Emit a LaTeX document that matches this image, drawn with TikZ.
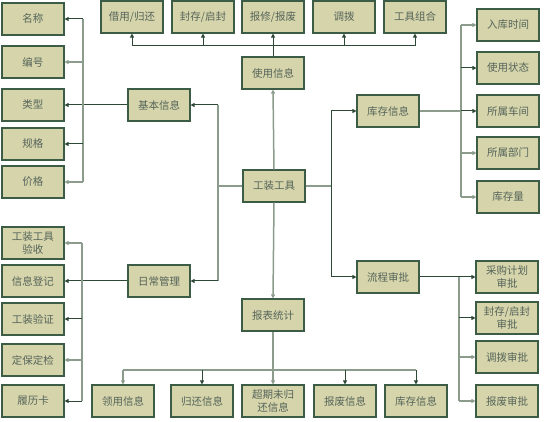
\documentclass[tikz,border=0pt]{standalone}
\usepackage{fontspec}
\setmainfont{Noto Sans CJK SC}
\usetikzlibrary{arrows.meta,positioning}
\definecolor{boxfill}{HTML}{D5D4AA}
\definecolor{boxline}{HTML}{3D5C45}
\definecolor{boxtext}{HTML}{55645A}
\definecolor{linkdark}{HTML}{2E4A36}
\definecolor{linkgray}{HTML}{8C9C8C}

\begin{document}
\begin{tikzpicture}[x=1pt,y=-1pt,font=\fontsize{10.5}{12.5}\selectfont,
  item/.style={draw=boxline,line width=1.1pt,fill=boxfill,text=boxtext,minimum width=62pt,minimum height=32pt,inner sep=1pt,align=center},
  link/.style={linkdark,line width=1pt},
  linkg/.style={linkgray,line width=1.5pt},
  tip/.style={-{Triangle[length=4pt,width=4pt]}}]
  \useasboundingbox (0,0) rectangle (544,422);
  % centre and its five groups
  \node[item] (tool) at (274,186) {工装工具};
  \node[item] (use) at (273,73) {使用信息};
  \node[item] (report) at (273,315) {报表统计};
  \node[item] (basic) at (159,105) {基本信息};
  \node[item] (daily) at (159,281) {日常管理};
  \node[item] (stock) at (388,111) {库存信息};
  \node[item] (flow) at (388,277) {流程审批};
  % top row
  \node[item] (borrow) at (132,17) {借用/归还};
  \node[item] (seal) at (203,17) {封存/启封};
  \node[item] (repair) at (273,17) {报修/报废};
  \node[item] (move) at (344,17) {调拨};
  \node[item] (combo) at (415,17) {工具组合};
  % left column, basic info
  \node[item] (name) at (33,19) {名称};
  \node[item] (code) at (33,62) {编号};
  \node[item] (kind) at (33,105) {类型};
  \node[item] (spec) at (33,144) {规格};
  \node[item] (price) at (33,182) {价格};
  % left column, daily management
  \node[item] (accept) at (33,243) {工装工具\\验收};
  \node[item] (record) at (33,281) {信息登记};
  \node[item] (verify) at (33,319) {工装验证};
  \node[item] (check) at (33,360) {定保定检};
  \node[item] (card) at (33,401) {履历卡};
  % right column, stock info
  \node[item] (intime) at (508,25) {入库时间};
  \node[item] (state) at (508,68) {使用状态};
  \node[item] (shop) at (508,111) {所属车间};
  \node[item] (dept) at (508,153) {所属部门};
  \node[item] (amount) at (508,197) {库存量};
  % right column, approvals
  \node[item] (planok) at (507,277) {采购计划\\审批};
  \node[item] (sealok) at (507,318) {封存/启封\\审批};
  \node[item] (moveok) at (507,357) {调拨审批};
  \node[item] (scrapok) at (507,401) {报废审批};
  % bottom row
  \node[item] (lend) at (123,401) {领用信息};
  \node[item] (back) at (202,401) {归还信息};
  \node[item] (overdue) at (273,401) {超期未归\\还信息};
  \node[item] (scrap) at (345,401) {报废信息};
  \node[item] (instock) at (416,401) {库存信息};

  % bus lines
  \coordinate (topbus) at (0,46);
  \coordinate (botbus) at (0,370);
  \coordinate (lbusa) at (83,0);
  \coordinate (lbusb) at (82,0);
  \coordinate (rbusa) at (461,0);
  \coordinate (rbusb) at (459,0);
  \coordinate (jl) at (218,0);
  \coordinate (jr) at (331,0);

  % centre to groups
  \draw[linkg,tip] (tool.north) -- (use.south);
  \draw[linkg,tip] (tool.south) -- (report.north);
  \draw[linkg] (tool.west) -- (tool.west -| jl);
  \draw[linkg] (basic.east -| jl) -- (daily.east -| jl);
  \draw[link,tip] (basic.east -| jl) -- (basic.east);
  \draw[link,tip] (daily.east -| jl) -- (daily.east);
  \draw[linkg] (tool.east) -- (tool.east -| jr);
  \draw[link] (stock.west -| jr) -- (flow.west -| jr);
  \draw[link,tip] (stock.west -| jr) -- (stock.west);
  \draw[link,tip] (flow.west -| jr) -- (flow.west);

  % usage info
  \draw[link] (use.north) -- (use.north |- topbus);
  \draw[link] (borrow.south |- topbus) -- (combo.south |- topbus);
  \foreach \n in {borrow,seal,repair,move,combo}
    \draw[link,tip] (\n.south |- topbus) -- (\n.south);

  % basic info
  \draw[link,tip] (basic.west) -- (kind.east);
  \draw[linkg] (name.east -| lbusa) -- (price.east -| lbusa);
  \draw[link,tip] (name.east -| lbusa) -- (name.east);
  \draw[linkg,tip] (code.east -| lbusa) -- (code.east);
  \draw[link,tip] (spec.east -| lbusa) -- (spec.east);
  \draw[linkg,tip] (price.east -| lbusa) -- (price.east);

  % daily management
  \draw[link,tip] (daily.west) -- (record.east);
  \draw[linkg] (accept.east -| lbusb) -- (card.east -| lbusb);
  \draw[linkg,tip] (accept.east -| lbusb) -- (accept.east);
  \draw[link,tip] (verify.east -| lbusb) -- (verify.east);
  \draw[linkg,tip] (check.east -| lbusb) -- (check.east);
  \draw[link,tip] (card.east -| lbusb) -- (card.east);

  % stock info
  \draw[linkg] (stock.east) -- (stock.east -| rbusa);
  \draw[linkg] (intime.west -| rbusa) -- (amount.west -| rbusa);
  \draw[linkg,tip] (intime.west -| rbusa) -- (intime.west);
  \draw[link,tip] (state.west -| rbusa) -- (state.west);
  \draw[link,tip] (shop.west -| rbusa) -- (shop.west);
  \draw[linkg,tip] (dept.west -| rbusa) -- (dept.west);
  \draw[linkg,tip] (amount.west -| rbusa) -- (amount.west);

  % approvals
  \draw[link,tip] (flow.east) -- (planok.west);
  \draw[linkg] (planok.west -| rbusb) -- (scrapok.west -| rbusb);
  \draw[link,tip] (sealok.west -| rbusb) -- (sealok.west);
  \draw[linkg,tip] (moveok.west -| rbusb) -- (moveok.west);
  \draw[linkg,tip] (scrapok.west -| rbusb) -- (scrapok.west);

  % reports
  \draw[linkg] (report.south) -- (report.south |- botbus);
  \draw[linkg] (lend.north |- botbus) -- (instock.north |- botbus);
  \draw[linkg,tip] (lend.north |- botbus) -- (lend.north);
  \draw[link,tip] (back.north |- botbus) -- (back.north);
  \draw[linkg,tip] (overdue.north |- botbus) -- (overdue.north);
  \draw[link,tip] (scrap.north |- botbus) -- (scrap.north);
  \draw[link,tip] (instock.north |- botbus) -- (instock.north);
\end{tikzpicture}
\end{document}
